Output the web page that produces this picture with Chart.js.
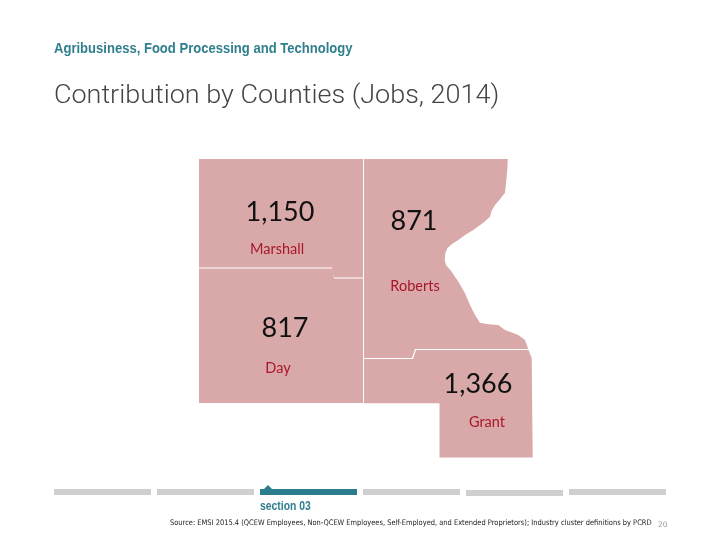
<!DOCTYPE html>
<html lang="en">
  <head>
    <meta charset="UTF-8" />
    <title>Contribution by Counties</title>
    <script src="https://cdn.jsdelivr.net/npm/chart.js@4"></script>
    <style>
      html, body { margin: 0; padding: 0; background: #fff; overflow: hidden; }
      #page { position: relative; width: 720px; height: 540px; }
      #map { position: absolute; left: 0; top: 0; }
      .txt { position: absolute; white-space: nowrap; line-height: 1; transform-origin: left top; }
      #kicker { left: 54px; top: 39px; font: bold 15px "Liberation Sans", sans-serif; color: #2f7f8c; transform: scaleX(0.87); }
      #title { left: 54px; top: 79px; font: 300 26px Roboto, sans-serif; color: #444; transform: scaleX(1.037); }
      .seg { position: absolute; top: 489px; width: 97px; height: 6px; background: #cfcfcf; }
      #bump { position: absolute; left: 263px; top: 485px; width: 0; height: 0;
        border-left: 5px solid transparent; border-right: 5px solid transparent; border-bottom: 5px solid #2a7d8c; }
      #section { left: 260px; top: 499px; font: bold 12px "Liberation Sans", sans-serif; color: #2f7f8c; transform: scaleX(0.865); }
      #source { left: 170px; top: 518px; font: 7.6px "DejaVu Sans", sans-serif; color: #222; transform: scaleX(0.88); }
      #pageno { left: 658px; top: 520px; font: 7.5px "DejaVu Sans", sans-serif; color: #999; }
    </style>
  </head>
  <body>
    <div id="page">
      <canvas id="map" width="720" height="540"></canvas>
      <div class="txt" id="kicker">Agribusiness, Food Processing and Technology</div>
      <div class="txt" id="title">Contribution by Counties (Jobs, 2014)</div>
      <div class="seg" style="left:54px"></div>
      <div class="seg" style="left:157px"></div>
      <div class="seg" style="left:260px;background:#2a7d8c"></div>
      <div class="seg" style="left:363px"></div>
      <div class="seg" style="left:466px;top:490px"></div>
      <div class="seg" style="left:569px"></div>
      <div id="bump"></div>
      <div class="txt" id="section">section 03</div>
      <div class="txt" id="source">Source: EMSI 2015.4 (QCEW Employees, Non-QCEW Employees, Self-Employed, and Extended Proprietors); Industry cluster definitions by PCRD</div>
      <div class="txt" id="pageno">20</div>
    </div>

    <script>
      const counties = ["Marshall", "Roberts", "Day", "Grant"];
      const jobs = [1150, 871, 817, 1366];

      // county outlines
      const marshallX = [199, 363, 363, 334, 332, 199];
      const marshallY = [159, 159, 277.5, 277.5, 267.5, 267.5];

      const robertsX = [364, 507.7, 507.3, 506, 505, 500, 495, 491.7, 490, 483.3, 473.3, 465, 458.3, 451.7, 447.3, 445.3, 444.7, 446, 451.7, 459.3, 465, 470, 475, 480, 488.3, 498.3, 505, 518.3, 525, 528.3, 415, 412, 364];
      const robertsY = [159, 159, 170, 183.3, 192.7, 199.3, 205, 210.7, 216.7, 222.7, 230, 235, 240, 244.3, 248.3, 253.3, 260, 265, 271.7, 283.3, 293.3, 305, 315, 322.7, 324.3, 325, 330, 335, 340, 349, 349, 358, 358];

      const dayX = [199, 332.5, 334, 363, 363, 199];
      const dayY = [268.5, 268.5, 278.5, 278.5, 403, 403];

      const grantX = [364, 413, 416, 528.5, 531.7, 532.7, 439.5, 439.5, 364];
      const grantY = [359, 359, 350, 350, 358, 457.5, 457.5, 403.3, 403.3];

      const outlines = [[marshallX, marshallY], [robertsX, robertsY], [dayX, dayY], [grantX, grantY]];

      // where each county's figures sit on the map
      const jobsLabelX = [280, 414, 285, 478];
      const jobsLabelY = [221, 230, 337, 393];
      const nameLabelX = [277, 415, 278, 487];
      const nameLabelY = [254, 291, 373, 427];

      const countyLabels = {
        id: "countyLabels",
        afterDatasetsDraw(chart) {
          const { ctx, scales } = chart;
          ctx.save();
          ctx.textAlign = "center";
          ctx.textBaseline = "alphabetic";
          counties.forEach((name, i) => {
            ctx.fillStyle = "#111";
            ctx.font = "27px Lato, sans-serif";
            ctx.fillText(jobs[i].toLocaleString("en-US"), scales.x.getPixelForValue(jobsLabelX[i]), scales.y.getPixelForValue(jobsLabelY[i]));
            ctx.fillStyle = "#a8172a";
            ctx.font = "14.5px Lato, sans-serif";
            ctx.fillText(name, scales.x.getPixelForValue(nameLabelX[i]), scales.y.getPixelForValue(nameLabelY[i]));
          });
          ctx.restore();
        }
      };

      new Chart(document.getElementById("map"), {
        type: "scatter",
        data: {
          datasets: outlines.map((o, i) => ({
            label: counties[i],
            data: o[0].map((x, j) => ({ x: x, y: o[1][j] })),
            showLine: true,
            fill: "shape",
            backgroundColor: "#d9a9a9",
            borderWidth: 0,
            pointRadius: 0,
            tension: 0
          }))
        },
        options: {
          responsive: false,
          animation: false,
          layout: { padding: 0 },
          plugins: { legend: { display: false }, tooltip: { enabled: false } },
          scales: {
            x: { display: false, min: 0, max: 720 },
            y: { display: false, min: 0, max: 540, reverse: true }
          }
        },
        plugins: [countyLabels]
      });
    </script>
  </body>
</html>
